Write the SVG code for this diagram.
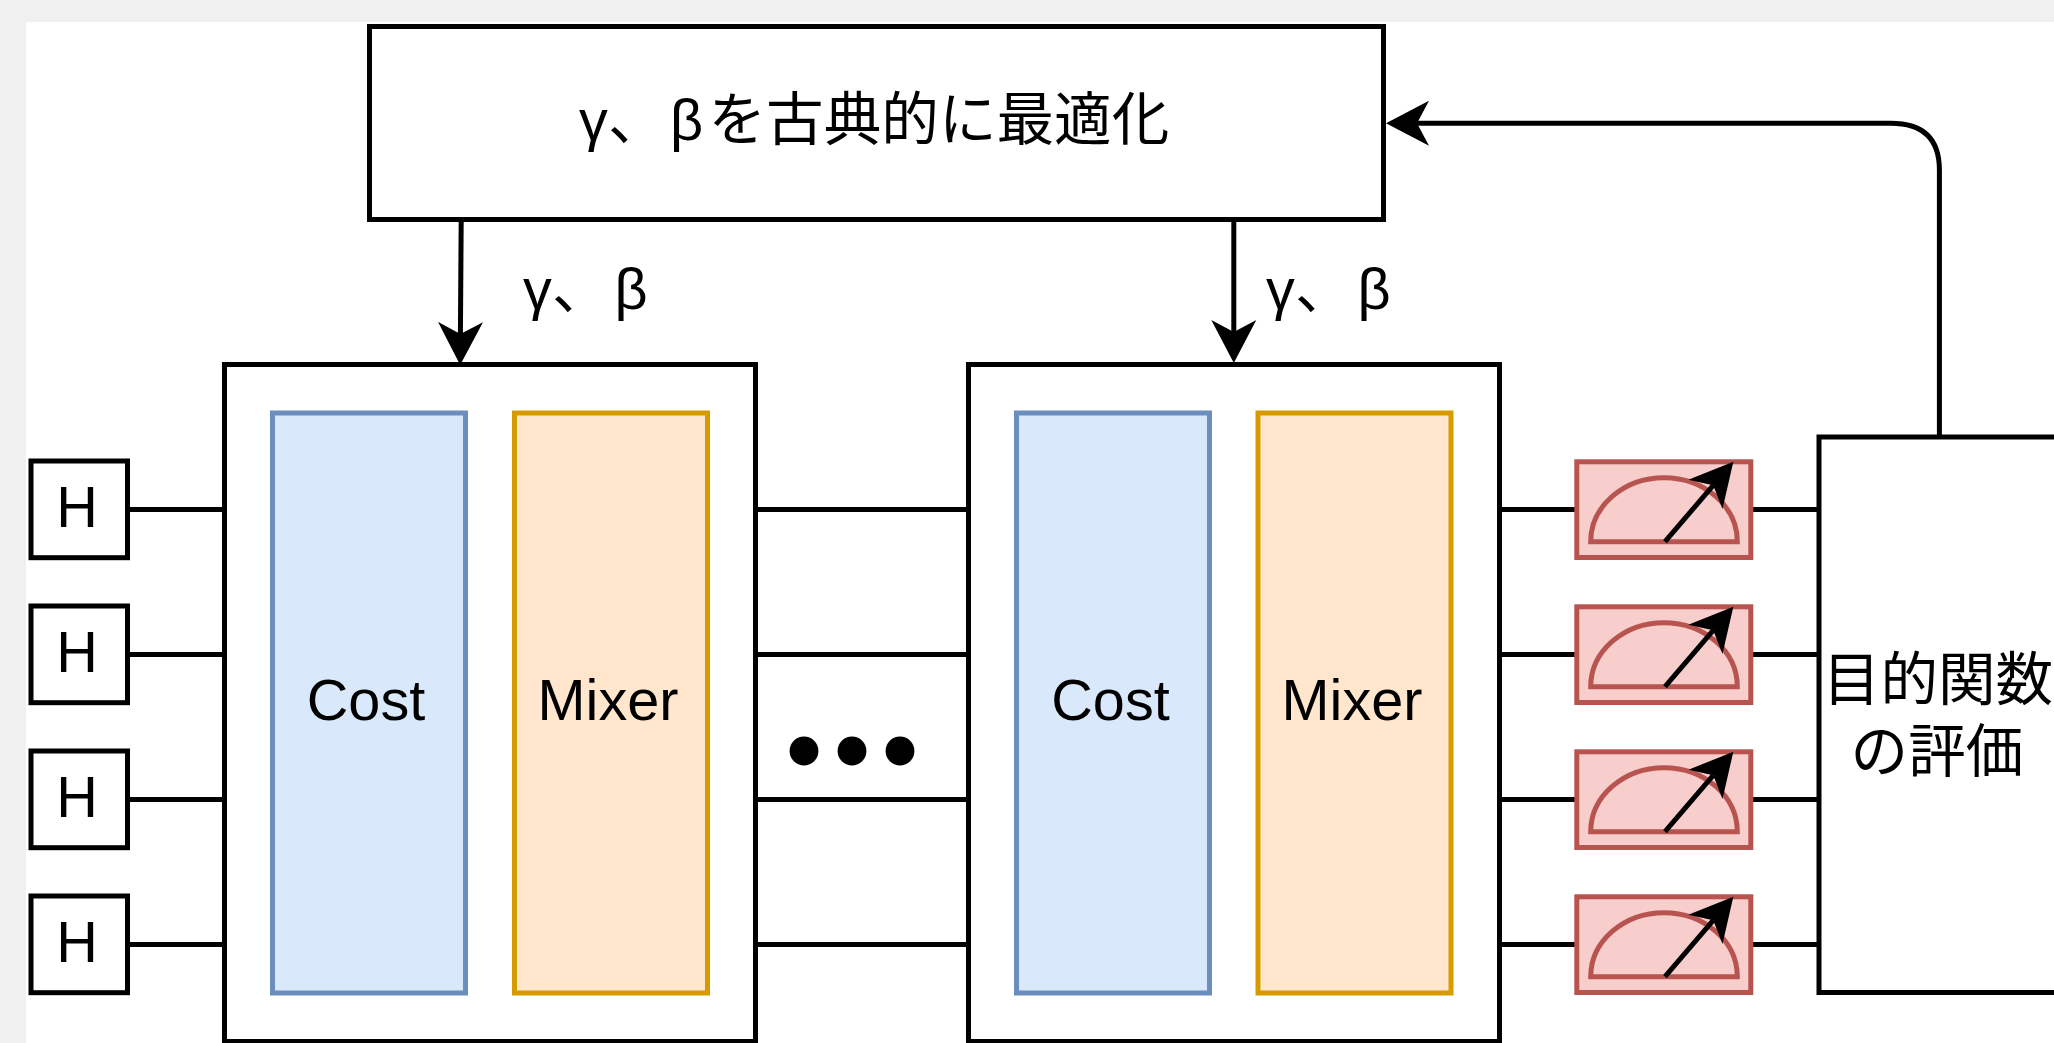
<svg xmlns="http://www.w3.org/2000/svg" width="2054" height="1043" viewBox="0 0 2054 1043">
<style>
.box{fill:#fff;stroke:#000;stroke-width:5}
.cost{fill:#dae8fc;stroke:#6c8ebf;stroke-width:5}
.mixer{fill:#ffe6cc;stroke:#d79b00;stroke-width:5}
.wire{fill:none;stroke:#000;stroke-width:5}
.mred{fill:#f8cecc;stroke:#b85450;stroke-width:5}
text{font-family:"Liberation Sans","Noto Sans CJK JP",sans-serif;font-size:57.6px;fill:#000;text-anchor:middle}
text.s{text-anchor:start}
</style>
<defs>
<marker id="head" markerUnits="userSpaceOnUse" markerWidth="48" markerHeight="48" viewBox="0 -24 48 48" refX="12" refY="0" orient="auto">
<path d="M0 -22.5L12 0L0 22.5L43 0Z" fill="#000"/>
</marker>
<g id="meter">
<rect class="mred" x="1576.8" y="461.8" width="174" height="95.7"/>
<path class="mred" d="M1590.7 541.7A73.3 64 0 0 1 1737.3 541.7Z"/>
<path class="wire" d="M1665 541.7L1713.2 485.3" marker-end="url(#head)"/>
</g>
</defs>
<rect width="2054" height="1043" fill="#f0f0f0"/>
<rect x="26" y="22" width="2028" height="1021" fill="#fff"/>
<g id="connectors">
<path class="wire" d="M127 509.5H224M127 654.5H224M127 799.5H224M127 944.5H224"/>
<path class="wire" d="M756 509.5H968M756 654.5H968M756 799.5H968M756 944.5H968"/>
<path class="wire" d="M1499 509.5H1577M1499 654.5H1577M1499 799.5H1577M1499 944.5H1577"/>
<path class="wire" d="M1750 509.5H1819M1750 654.5H1819M1750 799.5H1819M1750 944.5H1819"/>
<path class="wire" d="M461.2 220L460.4 334" marker-end="url(#head)"/>
<path class="wire" d="M1233.8 220V332" marker-end="url(#head)"/>
<path class="wire" d="M1939.4 437V170Q1939.4 123.3 1890.7 123.3H1417" marker-end="url(#head)"/>
</g>
<g id="optimizer"><rect class="box" x="369.5" y="26.5" width="1014" height="193"/><text class="s" y="140"><tspan x="579">γ</tspan><tspan x="608">、</tspan><tspan x="670">β</tspan><tspan x="708.5">を古典的に最適化</tspan></text></g>
<g id="label1"><text class="s" y="309"><tspan x="523">γ</tspan><tspan x="552">、</tspan><tspan x="614.5">β</tspan></text></g>
<g id="label2"><text class="s" y="309"><tspan x="1266">γ</tspan><tspan x="1295">、</tspan><tspan x="1357.5">β</tspan></text></g>
<g id="h1"><rect class="box" x="31" y="461" width="96.5" height="96.7"/><text x="77" y="527">H</text></g>
<g id="h2"><rect class="box" x="31" y="606" width="96.5" height="96.7"/><text x="77" y="672">H</text></g>
<g id="h3"><rect class="box" x="31" y="751" width="96.5" height="96.7"/><text x="77" y="817">H</text></g>
<g id="h4"><rect class="box" x="31" y="896" width="96.5" height="96.7"/><text x="77" y="962">H</text></g>
<g id="block1">
<rect class="box" x="224.5" y="364.5" width="531" height="677"/>
<rect class="cost" x="272.5" y="413" width="193" height="580"/>
<rect class="mixer" x="514.5" y="413" width="193" height="580"/>
<text x="366" y="719.5">Cost</text>
<text x="608" y="719.5">Mixer</text>
</g>
<g id="block2">
<rect class="box" x="968.5" y="364.5" width="531" height="677"/>
<rect class="cost" x="1016.5" y="413" width="193" height="580"/>
<rect class="mixer" x="1258" y="413" width="193" height="580"/>
<text x="1110.5" y="719.5">Cost</text>
<text x="1352" y="719.5">Mixer</text>
</g>
<g id="dots" fill="#000"><circle cx="804" cy="751" r="14.4"/><circle cx="852" cy="751" r="14.4"/><circle cx="900" cy="751" r="14.4"/></g>
<g id="measure1"><use href="#meter"/></g>
<g id="measure2"><use href="#meter" y="145"/></g>
<g id="measure3"><use href="#meter" y="290"/></g>
<g id="measure4"><use href="#meter" y="435"/></g>
<g id="objective"><rect class="box" x="1819" y="437" width="300" height="555.5"/><text x="1938" y="700">目的関数</text><text x="1937" y="772">の評価</text></g>
</svg>
